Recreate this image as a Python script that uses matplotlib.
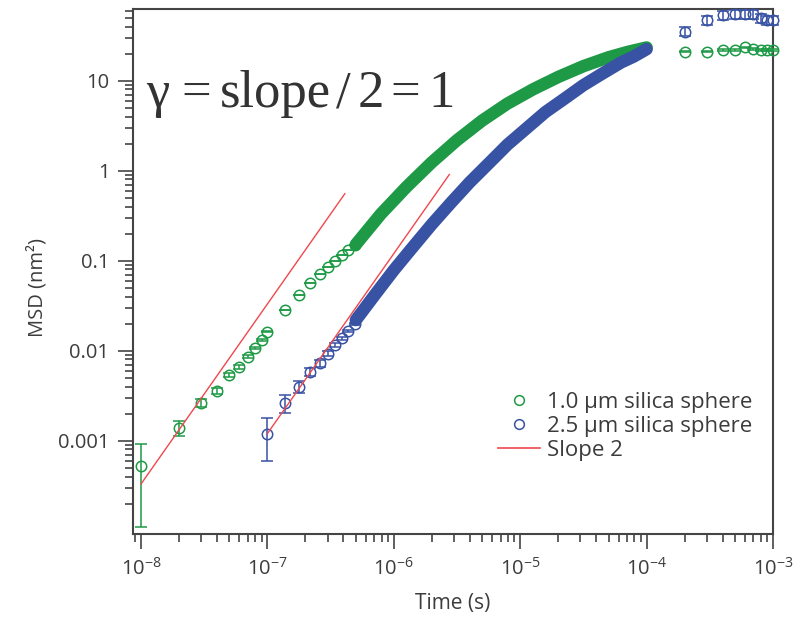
import matplotlib
matplotlib.use('Agg')
import matplotlib.pyplot as plt
from matplotlib.lines import Line2D
from matplotlib.ticker import FixedLocator, FixedFormatter, LogLocator, NullFormatter, LogFormatterMathtext

# ---------------- data ----------------
# 1.0 um sphere: individually visible points (time s, MSD nm^2, error)
g_pts_t = [1e-8, 2e-8, 3e-8, 4e-8, 5e-8, 6e-8, 7e-8, 8e-8, 9e-8, 1e-7,
           1.38e-7, 1.79e-7, 2.17e-7, 2.61e-7, 3.03e-7, 3.43e-7, 3.87e-7, 4.37e-7, 4.93e-7]
g_pts_m = [5.2e-4, 1.39e-3, 2.64e-3, 3.6e-3, 5.4e-3, 6.6e-3, 8.6e-3, 1.06e-2, 1.32e-2, 1.63e-2,
           0.0283, 0.0416, 0.0561, 0.0712, 0.0858, 0.100, 0.116, 0.131, 0.149]
g_pts_e = [4.1e-4, 2.5e-4, 2.7e-4, 2.6e-4, 2.6e-4, 2.6e-4, 2.6e-4, 2.6e-4, 2.6e-4, 2.6e-4,
           2.6e-4, 2.6e-4, 2.6e-4, 2.6e-4, 2.6e-4, 2.6e-4, 2.6e-4, 2.6e-4, 2.6e-4]
# 1.0 um sphere: dense part (points merge into a band)
g_band_t = [5.0e-7, 7.9e-7, 1.26e-6, 2.0e-6, 3.16e-6, 5.0e-6, 7.9e-6, 1.26e-5,
            2.0e-5, 3.16e-5, 5.0e-5, 7.1e-5, 1.0e-4]
g_band_m = [0.151, 0.33, 0.66, 1.24, 2.18, 3.6, 5.55, 8.0,
            11.0, 14.5, 18.2, 20.9, 23.4]
# 2.5 um sphere: individually visible points
b_pts_t = [1e-7, 1.38e-7, 1.79e-7, 2.17e-7, 2.61e-7, 3.03e-7, 3.43e-7, 3.87e-7, 4.37e-7, 4.93e-7]
b_pts_m = [1.19e-3, 2.61e-3, 3.98e-3, 5.85e-3, 7.24e-3, 9.3e-3, 0.0115, 0.0138, 0.0166, 0.0200]
b_pts_e = [6.0e-4, 5.8e-4, 5.8e-4, 5.8e-4, 5.8e-4, 5.8e-4, 5.8e-4, 5.8e-4, 5.8e-4, 5.8e-4]
# 2.5 um sphere: dense part
b_band_t = [5.01e-7, 7.08e-7, 1.0e-6, 1.41e-6, 2.0e-6, 2.82e-6, 3.98e-6, 5.62e-6, 7.94e-6,
            1.12e-5, 1.58e-5, 2.24e-5, 3.16e-5, 4.47e-5, 6.31e-5, 7.94e-5, 1.0e-4]
b_band_m = [0.0219, 0.0417, 0.0785, 0.141, 0.254, 0.437, 0.741, 1.20, 1.95,
            2.95, 4.47, 6.31, 8.91, 12.0, 16.0, 18.6, 22.4]
# long-time points
late_t = [2e-4, 3e-4, 4e-4, 5e-4, 6e-4, 7e-4, 8e-4, 9e-4, 1e-3]
g_late_m = [21.0, 21.0, 22.0, 22.0, 23.5, 22.5, 22.0, 22.0, 22.0]
g_late_e = [0.4, 0.4, 0.4, 0.4, 0.4, 0.4, 0.4, 0.4, 0.4]
b_late_m = [35.0, 47.0, 53.5, 54.5, 54.5, 54.5, 49.5, 47.0, 47.0]
b_late_e = [4.0, 5.5, 6.0, 6.0, 6.0, 6.0, 5.5, 5.5, 5.5]
# slope-2 guide lines (end points)
s1_t = [1e-8, 4.1e-7]
s1_m = [3.3e-4, 0.555]
s2_t = [1e-7, 2.75e-6]
s2_m = [1.2e-3, 0.907]

labels = ['1.0 µm silica sphere', '2.5 µm silica sphere', 'Slope 2']
ytick_vals = [0.001, 0.01, 0.1, 1, 10]
ytick_labels = ['0.001', '0.01', '0.1', '1', '10']
annot_parts = ['γ', '=', 'slope', '/', '2', '=', '1']

GREEN = '#1e9a46'
BLUE = '#3852a4'
RED = '#f0484e'
TXT = '#3c3c3c'

plt.rcParams['font.family'] = ['Open Sans', 'DejaVu Sans']
plt.rcParams['mathtext.fontset'] = 'custom'
plt.rcParams['mathtext.rm'] = 'Open Sans'
plt.rcParams['mathtext.it'] = 'Open Sans:italic'
plt.rcParams['mathtext.bf'] = 'Open Sans:bold'

fig = plt.figure(figsize=(8.12, 6.18), dpi=100)
ax = fig.add_axes([133/812, 1-534/618, 640/812, 525/618])
ax.set_xscale('log')
ax.set_yscale('log')

ekw = dict(fmt='o', mfc='none', ms=7.5, mew=1.1, capsize=4, elinewidth=1.1, capthick=1.1)

ax.plot(g_band_t, g_band_m, color=GREEN, lw=9, solid_capstyle='round', solid_joinstyle='round', zorder=2)
ax.plot(b_band_t, b_band_m, color=BLUE, lw=9, solid_capstyle='round', solid_joinstyle='round', zorder=2)
ax.errorbar(g_pts_t, g_pts_m, yerr=g_pts_e, mec=GREEN, ecolor=GREEN, zorder=3, **ekw)
ax.errorbar(b_pts_t, b_pts_m, yerr=b_pts_e, mec=BLUE, ecolor=BLUE, zorder=3, **ekw)
ax.errorbar(late_t, g_late_m, yerr=g_late_e, mec=GREEN, ecolor=GREEN, zorder=3, clip_on=False, **ekw)
ax.errorbar(late_t, b_late_m, yerr=b_late_e, mec=BLUE, ecolor=BLUE, zorder=3, clip_on=False, **ekw)
ax.plot(s1_t, s1_m, color=RED, lw=1.0, zorder=4)
ax.plot(s2_t, s2_m, color=RED, lw=1.0, zorder=4)

ax.set_xlim(8.65e-9, 1e-3)
ax.set_ylim(9.2e-5, 62.6)

ax.xaxis.set_major_locator(LogLocator(base=10, numticks=20))
ax.xaxis.set_minor_locator(LogLocator(base=10, subs=range(2, 10), numticks=100))
ax.xaxis.set_major_formatter(LogFormatterMathtext())
ax.xaxis.set_minor_formatter(NullFormatter())
ax.yaxis.set_major_locator(FixedLocator(ytick_vals))
ax.yaxis.set_major_formatter(FixedFormatter(ytick_labels))
ax.yaxis.set_minor_locator(LogLocator(base=10, subs=range(2, 10), numticks=100))
ax.yaxis.set_minor_formatter(NullFormatter())

ax.tick_params(which='both', direction='out', color='#444444', width=1.2, top=False, right=False)
ax.tick_params(which='major', length=11, labelsize=14.5, labelcolor=TXT, pad=6)
ax.tick_params(which='minor', length=6)
for s in ax.spines.values():
    s.set_color('#444444')
    s.set_linewidth(1.5)

ax.set_xlabel('Time (s)', fontsize=15, color=TXT)
ax.xaxis.set_label_coords(0.5, -0.113)
ax.set_ylabel('MSD (nm²)', fontsize=14.5, color=TXT)
ax.yaxis.set_label_coords(-0.133, 0.47)

handles = [Line2D([], [], marker='o', ls='none', mfc='none', mec=GREEN, ms=7, mew=1.1),
           Line2D([], [], marker='o', ls='none', mfc='none', mec=BLUE, ms=7, mew=1.1),
           Line2D([], [], color=RED, lw=1.2)]
leg = ax.legend(handles, labels, loc='upper left', bbox_to_anchor=(0.570, 0.270),
                frameon=False, fontsize=16, handlelength=1.9, handletextpad=0.3,
                labelspacing=0.12, borderpad=0, borderaxespad=0)
for t in leg.get_texts():
    t.set_color(TXT)

annot_x = [146, 181, 220, 336, 358, 390, 428]
for part, px in zip(annot_parts, annot_x):
    fig.text(px/812, 1-107/618, part, fontsize=38, family=['Liberation Serif', 'DejaVu Serif'],
             color='#333333', va='baseline', ha='left')

fig.savefig('out.png', dpi=100)
